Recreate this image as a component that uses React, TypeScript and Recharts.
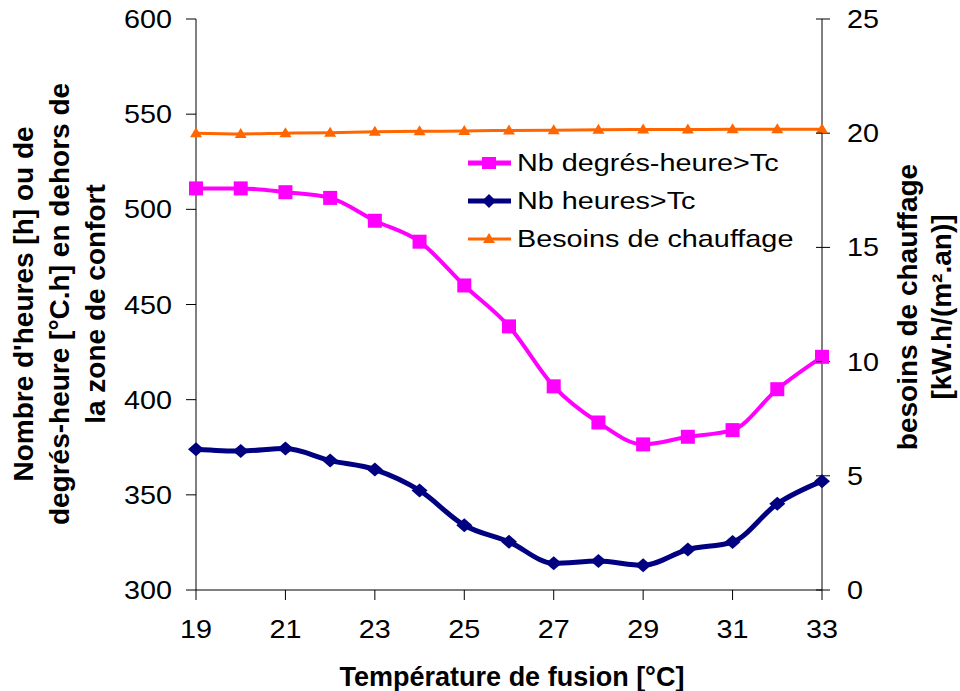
import { LineChart, Line, XAxis, YAxis, Legend, Label } from "recharts";

const temperatures = [19, 20, 21, 22, 23, 24, 25, 26, 27, 28, 29, 30, 31, 32, 33];
const degresHeure = [511, 511, 509, 506, 494, 483, 460, 438.5, 407, 388, 376.5, 380.5, 384, 405.5, 422.5];
const heures = [374, 373, 374.3, 368, 363.3, 352.3, 334, 325.3, 314, 315.2, 313, 321.3, 325.2, 345.3, 357.2];
const besoins = [20.0, 19.97, 20.0, 20.02, 20.06, 20.08, 20.1, 20.12, 20.13, 20.15, 20.16, 20.16, 20.17, 20.17, 20.17];

const xTicks = [19, 21, 23, 25, 27, 29, 31, 33];
const leftTicks = [300, 350, 400, 450, 500, 550, 600];
const rightTicks = [0, 5, 10, 15, 20, 25];

const leftTitle = ["Nombre d'heures [h] ou de", "degrés-heure [°C.h] en dehors de", "la zone de confort"];
const rightTitle = ["besoins de chauffage", "[kW.h/(m².an)]"];
const xTitle = "Température de fusion [°C]";

const MAGENTA = "#FF00FF";
const NAVY = "#000080";
const ORANGE = "#FF6600";
const FONT = "'Liberation Sans', Arial, sans-serif";
const SX = 1.15; // tick and legend text is drawn a bit wide in the source

const data = temperatures.map((t, i) => ({
  t,
  dh: degresHeure[i],
  h: heures[i],
  b: besoins[i],
}));

function SText({ x, y, anchor = "start", size, bold, sx = SX, children }: any) {
  return (
    <text
      transform={`translate(${x},${y}) scale(${sx},1)`}
      textAnchor={anchor}
      fontSize={size}
      fontWeight={bold ? "bold" : "normal"}
      fontFamily={FONT}
      fill="#000"
    >
      {children}
    </text>
  );
}

const square = (color: string, s: number) => (p: any) =>
  p.cx == null ? <g key={p.key} /> : (
    <rect key={p.key} x={p.cx - s / 2} y={p.cy - s / 2} width={s} height={s} fill={color} />
  );

const diamond = (color: string, w: number, h: number) => (p: any) =>
  p.cx == null ? <g key={p.key} /> : (
    <polygon
      key={p.key}
      points={`${p.cx},${p.cy - h} ${p.cx + w},${p.cy} ${p.cx},${p.cy + h} ${p.cx - w},${p.cy}`}
      fill={color}
    />
  );

const triangle = (color: string, w: number, h: number) => (p: any) =>
  p.cx == null ? <g key={p.key} /> : (
    <polygon
      key={p.key}
      points={`${p.cx},${p.cy - h * 0.6} ${p.cx + w},${p.cy + h * 0.4} ${p.cx - w},${p.cy + h * 0.4}`}
      fill={color}
    />
  );

const XTick = ({ x, y, payload }: any) => (
  <SText x={x} y={y + 38} anchor="middle" size={25}>
    {payload.value}
  </SText>
);

const LeftTick = ({ x, y, payload }: any) => (
  <SText x={x - 14} y={y + 9} anchor="end" size={25}>
    {payload.value}
  </SText>
);

const RightTick = ({ x, y, payload }: any) => (
  <g>
    <line x1={x - 14} x2={x - 8} y1={y} y2={y} stroke="#000" />
    <SText x={x + 17} y={y + 9} anchor="start" size={25}>
      {payload.value}
    </SText>
  </g>
);

const LeftTitle = () => (
  <g>
    {leftTitle.map((line, i) => (
      <text
        key={i}
        transform={`translate(${23 + i * 36},304) rotate(-90)`}
        textAnchor="middle"
        dominantBaseline="central"
        fontSize={28}
        fontWeight="bold"
        fontFamily={FONT}
        fill="#000"
      >
        {line}
      </text>
    ))}
  </g>
);

const RightTitle = () => (
  <g>
    {rightTitle.map((line, i) => (
      <text
        key={i}
        transform={`translate(${907 + i * 34},307) rotate(-90)`}
        textAnchor="middle"
        dominantBaseline="central"
        fontSize={28}
        fontWeight="bold"
        fontFamily={FONT}
        fill="#000"
      >
        {line}
      </text>
    ))}
  </g>
);

const XTitle = () => (
  <SText x={512} y={686} anchor="middle" size={27} bold sx={1}>
    {xTitle}
  </SText>
);

const legendItems = [
  { name: "Nb degrés-heure>Tc", color: MAGENTA, width: 5, marker: "square" },
  { name: "Nb heures>Tc", color: NAVY, width: 5, marker: "diamond" },
  { name: "Besoins de chauffage", color: ORANGE, width: 3, marker: "triangle" },
];

const LegendBox = () => (
  <svg width={360} height={120}>
    {legendItems.map((it, i) => {
      const cy = 23 + i * 38;
      const cx = 29;
      return (
        <g key={it.name}>
          <line x1={8} x2={51} y1={cy} y2={cy} stroke={it.color} strokeWidth={it.width} />
          {it.marker === "square" && <rect x={cx - 7} y={cy - 6} width={14} height={12} fill={it.color} />}
          {it.marker === "diamond" && (
            <polygon points={`${cx},${cy - 7} ${cx + 7},${cy} ${cx},${cy + 7} ${cx - 7},${cy}`} fill={it.color} />
          )}
          {it.marker === "triangle" && (
            <polygon points={`${cx},${cy - 6} ${cx + 6},${cy + 4} ${cx - 6},${cy + 4}`} fill={it.color} />
          )}
          <SText x={57} y={cy + 8} size={24} sx={1.2}>
            {it.name}
          </SText>
        </g>
      );
    })}
  </svg>
);

export default function App() {
  return (
    <div style={{ position: "absolute", left: 0, top: 0, background: "#fff" }}>
      <LineChart width={960} height={691} data={data} margin={{ top: 19, right: 0, bottom: 0, left: 0 }}>
        <XAxis
          dataKey="t"
          type="number"
          domain={[19, 33]}
          ticks={xTicks}
          height={101}
          tickSize={10}
          tickMargin={0}
          tick={<XTick />}
          stroke="#000"
          label={<Label content={<XTitle />} />}
        />
        <YAxis
          yAxisId="left"
          domain={[300, 600]}
          ticks={leftTicks}
          width={196}
          tickSize={10}
          tickMargin={0}
          tick={<LeftTick />}
          stroke="#000"
          label={<Label content={<LeftTitle />} />}
        />
        <YAxis
          yAxisId="right"
          orientation="right"
          domain={[0, 25]}
          ticks={rightTicks}
          width={138}
          tickSize={8}
          tickMargin={0}
          tick={<RightTick />}
          stroke="#000"
          label={<Label content={<RightTitle />} />}
        />
        <Legend
          layout="horizontal"
          verticalAlign="middle"
          content={<LegendBox />}
          wrapperStyle={{ position: "absolute", left: 460, top: 140, width: 360, height: 120 }}
        />
        <Line
          yAxisId="right"
          dataKey="b"
          name="Besoins de chauffage"
          type="monotone"
          stroke={ORANGE}
          strokeWidth={3}
          dot={triangle(ORANGE, 6, 10)}
          isAnimationActive={false}
        />
        <Line
          yAxisId="left"
          dataKey="dh"
          name="Nb degrés-heure>Tc"
          type="monotone"
          stroke={MAGENTA}
          strokeWidth={4}
          dot={square(MAGENTA, 14)}
          isAnimationActive={false}
        />
        <Line
          yAxisId="left"
          dataKey="h"
          name="Nb heures>Tc"
          type="monotone"
          stroke={NAVY}
          strokeWidth={5}
          dot={diamond(NAVY, 8, 7)}
          isAnimationActive={false}
        />
      </LineChart>
    </div>
  );
}
